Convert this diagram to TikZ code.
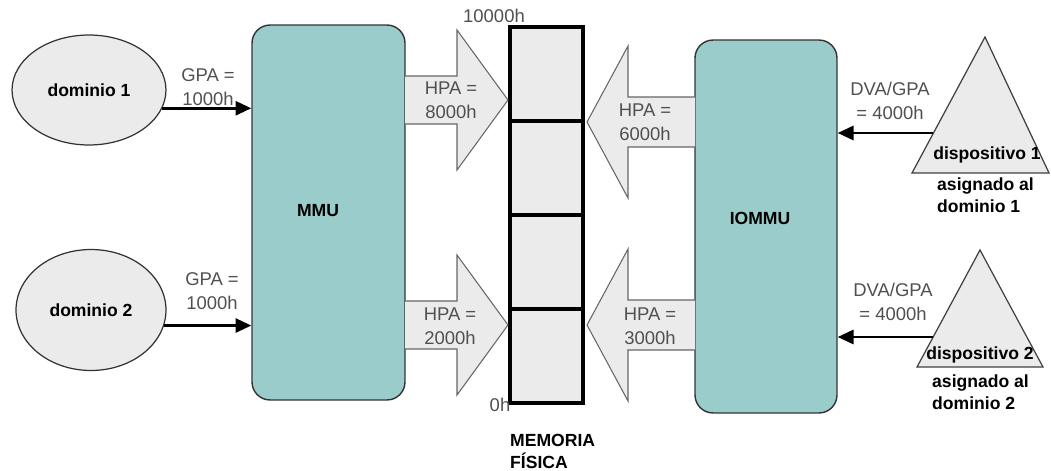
\documentclass[tikz,border=0pt]{standalone}
\usepackage{fontspec}
\setmainfont{Liberation Sans}
\usetikzlibrary{arrows.meta, shapes.geometric}

\definecolor{unitteal}{RGB}{155,204,204}
\definecolor{boxgray}{RGB}{235,235,235}
\definecolor{labelgray}{RGB}{80,80,80}

\tikzset{
    guest/.style={ellipse, draw=black!80, fill=boxgray, line width=0.7pt,
        font=\bfseries\fontsize{10}{12}\selectfont},
    unit/.style={draw=black!80, fill=unitteal, line width=0.8pt, rounded corners=0.36cm},
    memcell/.style={draw=black, fill=boxgray, line width=2.2pt,
        minimum width=1.46cm, minimum height=1.88cm},
    bigarrow/.style={draw=black!60, fill=boxgray, line width=0.6pt},
    device/.style={draw=black!75, fill=boxgray, line width=0.7pt},
    addr/.style={text=labelgray, align=center, font=\fontsize{10.5}{13.5}\selectfont},
    tag/.style={align=left, font=\bfseries\fontsize{10}{12.5}\selectfont},
    link/.style={line width=1.6pt, -{Triangle[length=9pt, width=8pt]}}
}

\begin{document}
\begin{tikzpicture}[x=0.02cm, y=-0.02cm]
    \useasboundingbox (0,0) rectangle (1051,470);

    % guests and translation units
    \node[guest, minimum width=3.08cm, minimum height=2.2cm] (dom1) at (89,90) {dominio 1};
    \node[guest, minimum width=3.0cm, minimum height=2.42cm] (dom2) at (91,310) {dominio 2};
    \node[unit, minimum width=3.06cm, minimum height=7.5cm] (mmu) at (328.5,212.5) {};
    \node[tag] (mmulabel) at (318,211) {MMU};
    \node[unit, minimum width=2.84cm, minimum height=7.46cm] (iommu) at (766,226.5) {};
    \node[tag] (iommulabel) at (760,218) {IOMMU};

    % physical memory
    \foreach \i in {1,...,4}
        \node[memcell] (mem\i) at (546.5,{94*\i-20}) {};
    \node[addr] (memtop) at (494,16) {10000h};
    \node[addr] (membottom) at (500,405) {0h};
    \node[tag, anchor=west] (memlabel) at (504,451) {MEMORIA\\FÍSICA};

    % wide arrows into memory
    \foreach \yc in {100,325}
        \draw[bigarrow] (405,{\yc-24}) -- (457,{\yc-24}) -- (457,{\yc-70}) -- (508,\yc)
            -- (457,{\yc+70}) -- (457,{\yc+24}) -- (405,{\yc+24});
    \foreach \yc in {122,325}
        \draw[bigarrow] (695,{\yc-25}) -- (628,{\yc-25}) -- (628,{\yc-76}) -- (587,\yc)
            -- (628,{\yc+76}) -- (628,{\yc+25}) -- (695,{\yc+25});
    \node[addr] (hpa1) at (451,100) {HPA =\\8000h};
    \node[addr] (hpa2) at (450,326) {HPA =\\2000h};
    \node[addr] (hpa3) at (645,122) {HPA =\\6000h};
    \node[addr] (hpa4) at (650,326) {HPA =\\3000h};

    % devices
    \draw[device] (985,37) -- (1049,173) -- (912,173) -- cycle;
    \draw[device] (980,250) -- (1043,367) -- (917,367) -- cycle;
    \node[tag] (dev1name) at (987,155) {dispositivo 1};
    \node[tag, anchor=west] (dev1dom) at (931,195) {asignado al\\dominio 1};
    \node[tag] (dev2name) at (980,355) {dispositivo 2};
    \node[tag, anchor=west] (dev2dom) at (926,392) {asignado al\\dominio 2};
    \coordinate (dev1) at (933,133);
    \coordinate (dev2) at (933,337);

    % guest and device addresses
    \draw[link] (dom1.-14) -- (dom1.-14 -| mmu.west);
    \draw[link] (dom2.-12) -- (dom2.-12 -| mmu.west);
    \draw[link] (dev1) -- (dev1 -| iommu.east);
    \draw[link] (dev2) -- (dev2 -| iommu.east);
    \node[addr] (gpa1) at (208,87) {GPA =\\1000h};
    \node[addr] (gpa2) at (212,291) {GPA =\\1000h};
    \node[addr] (dva1) at (890,101) {DVA/GPA\\= 4000h};
    \node[addr] (dva2) at (893,302) {DVA/GPA\\= 4000h};
\end{tikzpicture}
\end{document}
